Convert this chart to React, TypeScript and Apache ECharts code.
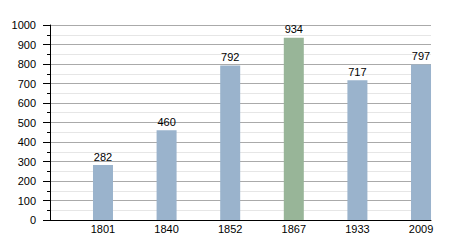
import React, { useEffect, useRef } from "react";
import * as echarts from "echarts";

const years = ["1801", "1840", "1852", "1867", "1933", "2009"];
const population = [282, 460, 792, 934, 717, 797];
const highlightYear = "1867";

export default function App() {
  const ref = useRef<HTMLDivElement>(null);
  useEffect(() => {
    if (!ref.current) return;
    const chart = echarts.init(ref.current, null, { renderer: "svg" });
    const font = "'Liberation Sans', Arial, sans-serif";
    chart.setOption({
      animation: false,
      grid: { left: 50, right: 19, top: 25, bottom: 30, containLabel: false },
      xAxis: {
        type: "value",
        min: -0.833,
        max: 5.157,
        splitLine: { show: false },
        axisLine: { show: true, onZero: false, lineStyle: { color: "#000", width: 1 } },
        axisTick: { show: false },
        axisLabel: {
          customValues: years.map((_, i) => i),
          formatter: (v: number) => years[Math.round(v)] ?? "",
          color: "#000",
          fontSize: 11,
          fontFamily: font,
          margin: 3,
        },
      },
      yAxis: {
        type: "value",
        min: 0,
        max: 1000,
        interval: 100,
        axisLine: { show: true, onZero: false, lineStyle: { color: "#000", width: 1 } },
        axisTick: { show: true, length: 7, lineStyle: { color: "#000" } },
        minorTick: { show: true, splitNumber: 2, length: 3, lineStyle: { color: "#000" } },
        splitLine: { show: true, lineStyle: { color: "#aaaaaa", width: 1 } },
        minorSplitLine: { show: true, lineStyle: { color: "#e6e6e6", width: 1 } },
        axisLabel: {
          color: "#000",
          fontSize: 11,
          fontFamily: font,
          margin: 14,
          formatter: (v: number) => String(v),
        },
      },
      series: [
        {
          type: "bar",
          barWidth: 20,
          data: population.map((v, i) => ({
            value: [i, v],
            itemStyle: { color: years[i] === highlightYear ? "#98b598" : "#9ab3cc" },
          })),
          label: {
            show: true,
            position: "top",
            distance: 3,
            color: "#000",
            fontSize: 11,
            fontFamily: font,
            formatter: (p: any) => String(p.value[1]),
          },
        },
      ],
    });
    return () => chart.dispose();
  }, []);
  return (
    <div
      ref={ref}
      style={{ position: "absolute", left: 0, top: 0, width: 450, height: 250 }}
    />
  );
}
